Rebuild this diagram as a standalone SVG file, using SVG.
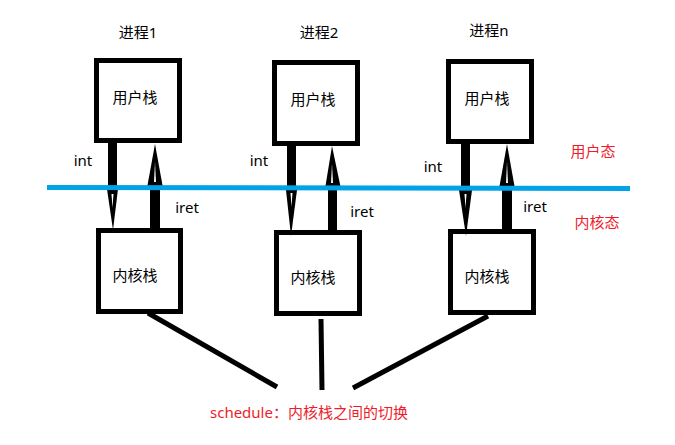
<svg xmlns="http://www.w3.org/2000/svg" width="675" height="445" viewBox="0 0 675 445">
<style>
.box{fill:#fff;stroke:#000;stroke-width:5}
.t{font-family:"Noto Sans","Noto Sans CJK SC",sans-serif;font-size:15px;fill:#000;text-anchor:middle}
.r{fill:#ee1c2c}
.l{stroke:#000;stroke-width:5;fill:none}
.k{fill:#000}
.w{fill:#fff}
</style>
<rect width="675" height="445" fill="#fff"/>
<g id="labels">
<text class="t" x="138" y="38">进程1</text>
<text class="t" x="319" y="38">进程2</text>
<text class="t" x="489" y="36">进程n</text>
</g>
<g id="user1"><rect class="box" x="96.5" y="60.5" width="83" height="80"/><text class="t" x="135" y="103">用户栈</text></g>
<g id="user2"><rect class="box" x="274.5" y="62.5" width="83" height="81"/><text class="t" x="313" y="105">用户栈</text></g>
<g id="usern"><rect class="box" x="448.5" y="61.5" width="83" height="80"/><text class="t" x="487" y="104">用户栈</text></g>
<g id="kernel1"><rect class="box" x="98.5" y="230.5" width="82" height="81"/><text class="t" x="135" y="281">内核栈</text></g>
<g id="kernel2"><rect class="box" x="276.5" y="232.5" width="83" height="81"/><text class="t" x="313" y="283">内核栈</text></g>
<g id="kerneln"><rect class="box" x="450.5" y="231.5" width="83" height="81"/><text class="t" x="487" y="282">内核栈</text></g>
<g id="connectors">
<!-- process 1 -->
<rect class="k" x="108" y="142" width="9" height="46"/>
<polygon class="k" points="107,189 118,189 113,230"/>
<polygon class="w" points="111.5,194 113.5,194 112.5,208"/>
<rect class="k" x="150" y="187" width="10" height="42"/>
<polygon class="k" points="147,188 163,188 155,144"/>
<polygon class="w" points="154,182 156,182 155,162"/>
<!-- process 2 -->
<rect class="k" x="287" y="145" width="9" height="44"/>
<polygon class="k" points="286,190 297,190 291,236"/>
<polygon class="w" points="290.5,193 292.5,193 291.5,207"/>
<rect class="k" x="328" y="188" width="9" height="43"/>
<polygon class="k" points="325,189 341,189 332,146"/>
<polygon class="w" points="331,183 333,183 332,164"/>
<!-- process n -->
<rect class="k" x="461" y="143" width="9" height="46"/>
<polygon class="k" points="459,190 472,190 466,236"/>
<polygon class="w" points="464.5,194 466.5,194 465.5,208"/>
<rect class="k" x="502" y="188" width="10" height="42"/>
<polygon class="k" points="499,189 515,189 507,144"/>
<polygon class="w" points="506,183 508,183 507,162"/>
<!-- schedule lines -->
<line class="l" x1="148" y1="313" x2="277" y2="387"/>
<line class="l" x1="321" y1="319" x2="322" y2="390"/>
<line class="l" x1="353" y1="388" x2="488" y2="316"/>
</g>
<line id="boundary" x1="47" y1="187.5" x2="630" y2="188.5" stroke="#00a2e8" stroke-width="5"/>
<g id="notes">
<text class="t" x="83" y="166">int</text>
<text class="t" x="259" y="166">int</text>
<text class="t" x="433" y="172">int</text>
<text class="t" x="187" y="213">iret</text>
<text class="t" x="362" y="217">iret</text>
<text class="t" x="535" y="212">iret</text>
<text class="t r" x="593" y="157">用户态</text>
<text class="t r" x="597" y="228">内核态</text>
<text class="t r" x="210" y="418" style="text-anchor:start">schedule：内核栈之间的切换</text>
</g>
</svg>
